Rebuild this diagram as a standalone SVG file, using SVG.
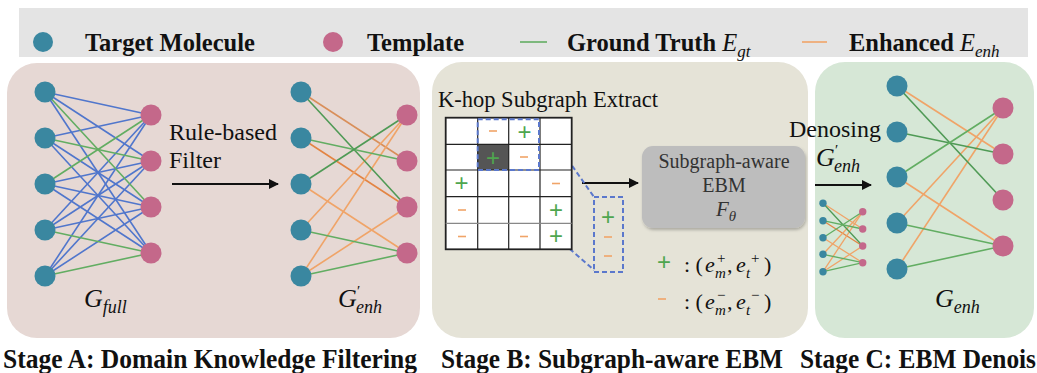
<svg xmlns="http://www.w3.org/2000/svg" width="1037" height="373" viewBox="0 0 1037 373" font-family="Liberation Serif, serif">
<defs>
<style>
.t{fill:#3a87a0}
.p{fill:#c4688a}
.eb{stroke:#5076cc;stroke-width:1.6}
.eg{stroke:#62ad62;stroke-width:1.6}
.eo{stroke:#f0a468;stroke-width:1.6}
.mi{stroke:#f0a468;stroke-width:1.6}
.dash{stroke:#5b78cc;stroke-width:2;stroke-dasharray:5 3;fill:none}
</style>
<marker id="ah" viewBox="0 0 10 10" refX="9" refY="5" markerWidth="5" markerHeight="5" orient="auto"><path d="M0,0 L10,5 L0,10 z" fill="#111"/></marker>
<filter id="sh" x="-10%" y="-10%" width="130%" height="140%"><feDropShadow dx="1" dy="2" stdDeviation="1.5" flood-color="#000" flood-opacity="0.25"/></filter>
</defs>
<rect width="1037" height="373" fill="#fff"/>
<g id="legend">
<rect x="19" y="8" width="1009" height="49" fill="#e4e4e4"/>
<circle cx="43" cy="42" r="10" class="t"/>
<text x="85" y="51" font-family="Liberation Serif, serif" font-weight="bold" font-size="24.5" fill="#111">Target Molecule</text>
<circle cx="333" cy="42" r="10" class="p"/>
<text x="367" y="51" font-family="Liberation Serif, serif" font-weight="bold" font-size="24.5" fill="#111">Template</text>
<line x1="520" y1="42" x2="547" y2="42" class="eg"/>
<text x="567" y="51" font-family="Liberation Serif, serif" font-size="24.5" fill="#111"><tspan font-weight="bold">Ground Truth </tspan><tspan font-style="italic">E</tspan><tspan font-style="italic" font-size="17" dy="6">gt</tspan></text>
<line x1="802" y1="42" x2="827" y2="42" class="eo"/>
<text x="849" y="51" font-family="Liberation Serif, serif" font-size="24.5" fill="#111"><tspan font-weight="bold">Enhanced </tspan><tspan font-style="italic">E</tspan><tspan font-style="italic" font-size="17" dy="6">enh</tspan></text>
</g>
<g id="stageA-panel"><rect x="7" y="63" width="413" height="275" rx="30" fill="#e6d8d4"/></g>
<g id="stageB-panel"><rect x="432" y="62" width="376" height="276" rx="30" fill="#e5e3d7"/></g>
<g id="stageC-panel"><rect x="815" y="62" width="219" height="276" rx="30" fill="#d6e7d6"/></g>
<g id="connectors">
<g class="eb">
<line x1="45" y1="92" x2="151" y2="115"/><line x1="45" y1="92" x2="151" y2="161"/><line x1="45" y1="92" x2="151" y2="253"/>
<line x1="45" y1="138" x2="151" y2="115"/><line x1="45" y1="138" x2="151" y2="207"/><line x1="45" y1="138" x2="151" y2="253"/>
<line x1="45" y1="184" x2="151" y2="161"/><line x1="45" y1="184" x2="151" y2="207"/><line x1="45" y1="184" x2="151" y2="253"/>
<line x1="45" y1="230" x2="151" y2="115"/><line x1="45" y1="230" x2="151" y2="161"/><line x1="45" y1="230" x2="151" y2="207"/>
<line x1="45" y1="276" x2="151" y2="115"/><line x1="45" y1="276" x2="151" y2="161"/><line x1="45" y1="276" x2="151" y2="207"/>
</g>
<g class="eg">
<line x1="45" y1="92" x2="151" y2="207"/><line x1="45" y1="138" x2="151" y2="161"/><line x1="45" y1="184" x2="151" y2="115"/><line x1="45" y1="230" x2="151" y2="253"/><line x1="45" y1="276" x2="151" y2="253"/>
</g>
<g class="eo">
<line x1="301" y1="92" x2="407" y2="161" style="stroke:#d98f5a"/>
<line x1="301" y1="138" x2="407" y2="207" style="stroke:#e38443"/>
<line x1="301" y1="184" x2="407" y2="253"/>
<line x1="301" y1="230" x2="407" y2="115"/>
<line x1="301" y1="276" x2="407" y2="115"/>
<line x1="301" y1="276" x2="407" y2="207"/>
</g>
<g class="eg">
<line x1="301" y1="92" x2="407" y2="207" style="stroke:#4f9a55"/>
<line x1="301" y1="138" x2="407" y2="161"/>
<line x1="301" y1="184" x2="407" y2="115" style="stroke:#4f9a55"/>
<line x1="301" y1="230" x2="407" y2="253"/>
<line x1="301" y1="276" x2="407" y2="253"/>
</g>
<g class="eo" style="stroke-width:1.3">
<line x1="823" y1="203.3" x2="862.7" y2="229"/>
<line x1="823" y1="220.7" x2="862.7" y2="246" style="stroke:#e38443"/>
<line x1="823" y1="237.7" x2="862.7" y2="262.7"/>
<line x1="823" y1="254.3" x2="862.7" y2="211.7"/>
<line x1="823" y1="271.7" x2="862.7" y2="211.7"/>
<line x1="823" y1="271.7" x2="862.7" y2="246"/>
</g>
<g class="eg" style="stroke-width:1.3">
<line x1="823" y1="203.3" x2="862.7" y2="246" style="stroke:#4f9a55"/>
<line x1="823" y1="220.7" x2="862.7" y2="229"/>
<line x1="823" y1="237.7" x2="862.7" y2="211.7"/>
<line x1="823" y1="254.3" x2="862.7" y2="262.7"/>
<line x1="823" y1="271.7" x2="862.7" y2="262.7"/>
</g>
<g class="eo">
<line x1="897" y1="86" x2="1003" y2="154"/>
<line x1="897" y1="177" x2="1003" y2="246"/>
<line x1="897" y1="223" x2="1003" y2="108"/>
<line x1="897" y1="269" x2="1003" y2="108"/>
</g>
<g class="eg">
<line x1="897" y1="86" x2="1003" y2="200" style="stroke:#4f9a55"/>
<line x1="897" y1="132" x2="1003" y2="154" style="stroke:#4f9a55"/>
<line x1="897" y1="177" x2="1003" y2="108"/>
<line x1="897" y1="223" x2="1003" y2="246"/>
<line x1="897" y1="269" x2="1003" y2="246"/>
</g>
<g stroke="#111" stroke-width="2" marker-end="url(#ah)">
<line x1="172" y1="184" x2="278" y2="184"/>
<line x1="582" y1="183" x2="638" y2="183"/>
<line x1="815" y1="185" x2="871" y2="185"/>
</g>
<g class="dash">
<line x1="540" y1="120" x2="594" y2="197"/>
<line x1="479" y1="170" x2="594" y2="270"/>
</g>
</g>
<g class="t">
<g id="gfull-m1"><circle cx="45" cy="92" r="10.5"/></g>
<g id="gfull-m2"><circle cx="45" cy="138" r="10.5"/></g>
<g id="gfull-m3"><circle cx="45" cy="184" r="10.5"/></g>
<g id="gfull-m4"><circle cx="45" cy="230" r="10.5"/></g>
<g id="gfull-m5"><circle cx="45" cy="276" r="10.5"/></g>
<g id="genhp-m1"><circle cx="301" cy="92" r="10.5"/></g>
<g id="genhp-m2"><circle cx="301" cy="138" r="10.5"/></g>
<g id="genhp-m3"><circle cx="301" cy="184" r="10.5"/></g>
<g id="genhp-m4"><circle cx="301" cy="230" r="10.5"/></g>
<g id="genhp-m5"><circle cx="301" cy="276" r="10.5"/></g>
<g id="small-m1"><circle cx="823" cy="203.3" r="3.7"/></g>
<g id="small-m2"><circle cx="823" cy="220.7" r="3.7"/></g>
<g id="small-m3"><circle cx="823" cy="237.7" r="3.7"/></g>
<g id="small-m4"><circle cx="823" cy="254.3" r="3.7"/></g>
<g id="small-m5"><circle cx="823" cy="271.7" r="3.7"/></g>
<g id="genh-m1"><circle cx="897" cy="86" r="10.5"/></g>
<g id="genh-m2"><circle cx="897" cy="132" r="10.5"/></g>
<g id="genh-m3"><circle cx="897" cy="177" r="10.5"/></g>
<g id="genh-m4"><circle cx="897" cy="223" r="10.5"/></g>
<g id="genh-m5"><circle cx="897" cy="269" r="10.5"/></g>
</g>
<g class="p">
<g id="gfull-t1"><circle cx="151" cy="115" r="10.5"/></g>
<g id="gfull-t2"><circle cx="151" cy="161" r="10.5"/></g>
<g id="gfull-t3"><circle cx="151" cy="207" r="10.5"/></g>
<g id="gfull-t4"><circle cx="151" cy="253" r="10.5"/></g>
<g id="genhp-t1"><circle cx="407" cy="115" r="10.5"/></g>
<g id="genhp-t2"><circle cx="407" cy="161" r="10.5"/></g>
<g id="genhp-t3"><circle cx="407" cy="207" r="10.5"/></g>
<g id="genhp-t4"><circle cx="407" cy="253" r="10.5"/></g>
<g id="small-t1"><circle cx="862.7" cy="211.7" r="3.7"/></g>
<g id="small-t2"><circle cx="862.7" cy="229" r="3.7"/></g>
<g id="small-t3"><circle cx="862.7" cy="246" r="3.7"/></g>
<g id="small-t4"><circle cx="862.7" cy="262.7" r="3.7"/></g>
<g id="genh-t1"><circle cx="1003" cy="108" r="10.5"/></g>
<g id="genh-t2"><circle cx="1003" cy="154" r="10.5"/></g>
<g id="genh-t3"><circle cx="1003" cy="200" r="10.5"/></g>
<g id="genh-t4"><circle cx="1003" cy="246" r="10.5"/></g>
</g>
<g id="stageA-text" font-family="Liberation Serif, serif" fill="#111">
<text x="84" y="307" font-style="italic" font-size="26">G<tspan font-size="18" dy="6">full</tspan></text>
<text x="338" y="307" font-style="italic" font-size="26">G</text>
<text x="357" y="296" font-size="15">′</text>
<text x="356" y="313" font-style="italic" font-size="18">enh</text>
<text x="169" y="140" font-size="24">Rule-based</text>
<text x="169" y="168" font-size="24">Filter</text>
</g>
<g id="kgrid">
<text x="438" y="107" font-family="Liberation Serif, serif" font-size="22.5" fill="#111">K-hop Subgraph Extract</text>
<rect x="445.7" y="117.7" width="126" height="131.6" fill="#fff"/>
<rect x="477.7" y="144.3" width="31" height="25.7" fill="#555"/>
<g stroke="#222" stroke-width="1.2" fill="none">
<rect x="445.7" y="117.7" width="126" height="131.6" stroke-width="1.8"/>
<line x1="477.7" y1="117.7" x2="477.7" y2="249.3"/><line x1="508.7" y1="117.7" x2="508.7" y2="249.3"/><line x1="540" y1="117.7" x2="540" y2="249.3"/>
<line x1="445.7" y1="144.3" x2="571.7" y2="144.3"/><line x1="445.7" y1="170" x2="571.7" y2="170"/><line x1="445.7" y1="196.7" x2="571.7" y2="196.7"/><line x1="445.7" y1="223.3" x2="571.7" y2="223.3" stroke="#888"/>
</g>
<g fill="#4fa64f" font-family="Liberation Sans, sans-serif" font-size="24" text-anchor="middle">
<text x="524.5" y="139.5">+</text>
<text x="493" y="165.5">+</text>
<text x="461.5" y="191">+</text>
<text x="556" y="217.5">+</text>
<text x="556" y="243.5">+</text>
<text x="608" y="225">+</text>
</g>
<g class="mi">
<line x1="489" y1="131" x2="497" y2="131"/>
<line x1="520" y1="157" x2="528" y2="157"/>
<line x1="552" y1="183.5" x2="560" y2="183.5"/>
<line x1="458" y1="210" x2="466" y2="210"/>
<line x1="458" y1="236.5" x2="466" y2="236.5"/>
<line x1="520" y1="236.5" x2="528" y2="236.5"/>
<line x1="604" y1="237" x2="612" y2="237"/>
<line x1="604" y1="256" x2="612" y2="256"/>
</g>
<g class="dash">
<rect x="477.7" y="119.3" width="61.3" height="50.7"/>
<rect x="594" y="197" width="29" height="75"/>
</g>
</g>
<g id="ebm" font-family="Liberation Serif, serif" fill="#333">
<rect x="642" y="146" width="163" height="82" rx="11" fill="#bdbdbd" filter="url(#sh)"/>
<text x="724" y="168" font-size="20" text-anchor="middle">Subgraph-aware</text>
<text x="724" y="192" font-size="20" text-anchor="middle">EBM</text>
<text x="716" y="216" font-style="italic" font-size="21">F<tspan font-size="15" dy="5">θ</tspan></text>
</g>
<g id="pair-legend">
<text x="664" y="270" fill="#4fa64f" font-family="Liberation Sans, sans-serif" font-size="24" text-anchor="middle">+</text>
<line x1="658" y1="299" x2="666" y2="299" class="mi"/>
<g font-family="Liberation Serif, serif" font-size="22" fill="#111">
<text x="684" y="272">: (</text>
<text x="705" y="272" font-style="italic">e</text>
<text x="715" y="278" font-style="italic" font-size="15">m</text>
<text x="717" y="263" font-size="15">+</text>
<text x="727" y="272">,</text>
<text x="736" y="272" font-style="italic">e</text>
<text x="746" y="278" font-style="italic" font-size="15">t</text>
<text x="751" y="263" font-size="15">+</text>
<text x="764" y="272">)</text>
<text x="684" y="309">: (</text>
<text x="705" y="309" font-style="italic">e</text>
<text x="715" y="315" font-style="italic" font-size="15">m</text>
<text x="717" y="300" font-size="15">−</text>
<text x="727" y="309">,</text>
<text x="736" y="309" font-style="italic">e</text>
<text x="746" y="315" font-style="italic" font-size="15">t</text>
<text x="751" y="300" font-size="15">−</text>
<text x="764" y="309">)</text>
</g>
</g>
<g id="stageC-text" font-family="Liberation Serif, serif" fill="#111">
<text x="789" y="137" font-size="24">Denosing</text>
<text x="816" y="166" font-style="italic" font-size="26">G</text>
<text x="835" y="155" font-size="15">′</text>
<text x="834" y="172" font-style="italic" font-size="18">enh</text>
<text x="935" y="307" font-style="italic" font-size="26">G<tspan font-size="18" dy="6">enh</tspan></text>
</g>
<g id="titles" font-family="Liberation Serif, serif" font-weight="bold" font-size="27" fill="#111">
<text x="3" y="368" textLength="414" lengthAdjust="spacingAndGlyphs">Stage A: Domain Knowledge Filtering</text>
<text x="441" y="368" textLength="342" lengthAdjust="spacingAndGlyphs">Stage B: Subgraph-aware EBM</text>
<text x="800" y="368" textLength="236" lengthAdjust="spacingAndGlyphs">Stage C: EBM Denois</text>
</g>
</svg>
